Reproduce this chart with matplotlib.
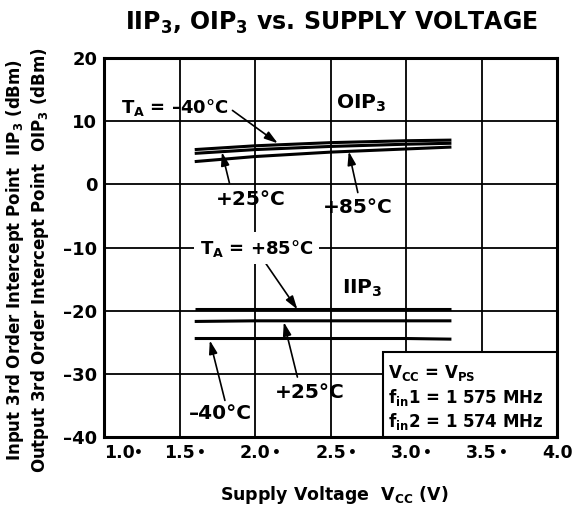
import matplotlib

matplotlib.use("Agg")
import matplotlib.pyplot as plt
from matplotlib.patches import Rectangle

plt.rcParams["font.family"] = ["DejaVu Sans"]
plt.rcParams["font.weight"] = "bold"
plt.rcParams["mathtext.fontset"] = "custom"
plt.rcParams["mathtext.rm"] = "DejaVu Sans:bold"
plt.rcParams["mathtext.default"] = "rm"

# supply voltage (V) sample points along the curves
vcc = [1.6, 2.0, 2.5, 3.0, 3.3]

# OIP3 (dBm) per ambient temperature
oip3_m40 = [5.5, 6.1, 6.6, 6.9, 7.0]
oip3_p25 = [4.9, 5.5, 6.0, 6.35, 6.5]
oip3_p85 = [3.6, 4.4, 5.1, 5.6, 5.9]

# IIP3 (dBm) per ambient temperature
iip3_p85 = [-19.7, -19.7, -19.7, -19.7, -19.7]
iip3_p25 = [-21.7, -21.6, -21.6, -21.6, -21.6]
iip3_m40 = [-24.4, -24.4, -24.4, -24.4, -24.5]

x_ticks = [1.0, 1.5, 2.0, 2.5, 3.0, 3.5, 4.0]
x_tick_labels = ["1.0", "1.5", "2.0", "2.5", "3.0", "3.5", "4.0"]
y_ticks = [-40, -30, -20, -10, 0, 10, 20]
y_tick_labels = ["–40", "–30", "–20", "–10", "0", "10", "20"]

fig = plt.figure(figsize=(5.72, 5.13), dpi=100)
ax = fig.add_axes([0.182, 0.148, 0.792, 0.739])

for series in (oip3_m40, oip3_p25, oip3_p85, iip3_p85, iip3_p25, iip3_m40):
    ax.plot(vcc, series, color="black", lw=2.2, solid_capstyle="butt", zorder=3)

ax.set_xlim(1.0, 4.0)
ax.set_ylim(-40, 20)
ax.set_xticks(x_ticks)
ax.set_xticklabels(x_tick_labels)
ax.set_yticks(y_ticks)
ax.set_yticklabels(y_tick_labels)
ax.tick_params(length=0, labelsize=13, pad=5)
ax.tick_params(axis="x", labelsize=12.5)
ax.get_xticklabels()[0].set_horizontalalignment("left")
ax.grid(True, color="black", lw=1.3)
for sp in ax.spines.values():
    sp.set_linewidth(2.2)

# stray bullet marks printed after the x tick numbers
for x in x_ticks[:-1]:
    dx = 25 if x == x_ticks[0] else 15.5
    ax.annotate("•", xy=(x, 0), xycoords=ax.get_xaxis_transform(),
                xytext=(dx, -11.5), textcoords="offset points",
                fontsize=10, ha="center", va="center")

txt = dict(fontsize=14.5, fontweight="bold", ha="center", va="center", zorder=5)
ta = dict(txt, fontsize=13)
arr = dict(arrowstyle="-|>,head_length=0.8,head_width=0.25", color="black", lw=1.2,
           shrinkA=0, shrinkB=0)

# OIP3 annotations
ax.text(1.47, 12.2, "T$_A$ = –40°C", **ta)
ax.annotate("", xy=(2.15, 6.5), xytext=(1.85, 11.7), arrowprops=arr)
ax.text(2.70, 12.8, "OIP$_3$", **txt)
ax.text(1.97, -2.4, "+25°C", **txt)
ax.annotate("", xy=(1.78, 5.1), xytext=(1.83, 0.2), arrowprops=arr)
ax.text(2.68, -3.6, "+85°C", **txt)
ax.annotate("", xy=(2.62, 5.2), xytext=(2.68, -1.3), arrowprops=arr)

# IIP3 annotations
ax.text(2.01, -10.1, "T$_A$ = +85°C", bbox=dict(fc="white", ec="none", pad=4), **ta)
ax.annotate("", xy=(2.28, -19.8), xytext=(2.05, -11.8), arrowprops=arr)
ax.text(2.71, -16.5, "IIP$_3$", **txt)
ax.text(2.36, -32.9, "+25°C", **txt)
ax.annotate("", xy=(2.19, -21.8), xytext=(2.28, -30.5), arrowprops=arr)
ax.text(1.77, -36.2, "–40°C", **txt)
ax.annotate("", xy=(1.70, -24.7), xytext=(1.80, -34.2), arrowprops=arr)

# conditions box
ax.add_patch(Rectangle((2.85, -40), 1.15, 13.4, fc="white", ec="black", lw=1.5, zorder=4))
box_txt = dict(fontsize=12, fontweight="bold", ha="left", va="center", zorder=5)
ax.text(2.88, -29.9, "V$_{CC}$ = V$_{PS}$", **box_txt)
ax.text(2.88, -33.7, "f$_{in}$1 = 1 575 MHz", **box_txt)
ax.text(2.88, -37.5, "f$_{in}$2 = 1 574 MHz", **box_txt)

fig.text(0.579, 0.955, "IIP$_3$, OIP$_3$ vs. SUPPLY VOLTAGE", fontsize=17,
         fontweight="bold", ha="center", va="center")
fig.text(0.585, 0.035, "Supply Voltage  V$_{CC}$ (V)", fontsize=12.5,
         fontweight="bold", ha="center", va="center")
fig.text(0.027, 0.493, "Input 3rd Order Intercept Point  IIP$_3$ (dBm)", fontsize=12,
         fontweight="bold", ha="center", va="center", rotation=90)
fig.text(0.070, 0.493, "Output 3rd Order Intercept Point  OIP$_3$ (dBm)", fontsize=12,
         fontweight="bold", ha="center", va="center", rotation=90)

fig.savefig("out.png", dpi=100)
